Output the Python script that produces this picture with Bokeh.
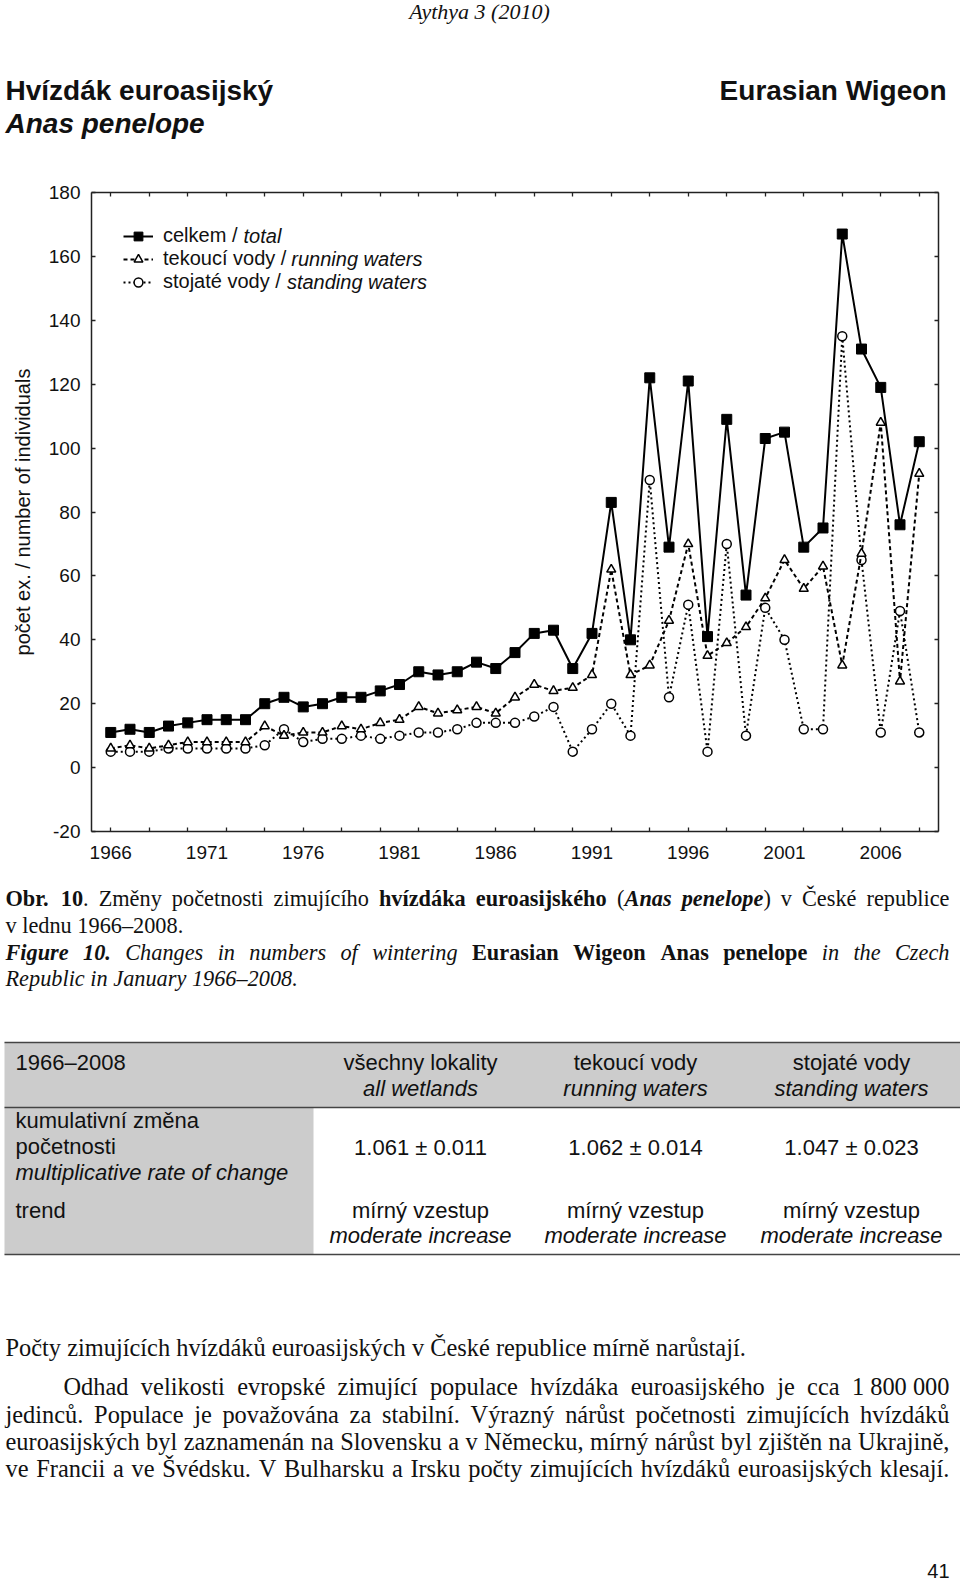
import unicodedata
from bokeh.plotting import figure
from bokeh.models import (Range1d, LinearAxis, FixedTicker, CustomJSTickFormatter,
                          Legend, LegendItem, Label, BoxAnnotation)
from bokeh.layouts import column
from bokeh.embed import file_html
from bokeh.resources import INLINE

# ---------------- data ----------------
years = list(range(1966, 2009))
total = [11, 12, 11, 13, 14, 15, 15, 15, 20, 22, 19, 20, 22, 22, 24, 26, 30, 29, 30, 33, 31, 36,
         42, 43, 31, 42, 83, 40, 122, 69, 121, 41, 109, 54, 103, 105, 69, 75, 167, 131, 119, 76, 102]
running = [6, 7, 6, 7, 8, 8, 8, 8, 13, 10, 11, 11, 13, 12, 14, 15, 19, 17, 18, 19, 17, 22,
           26, 24, 25, 29, 62, 29, 32, 46, 70, 35, 39, 44, 53, 65, 56, 63, 32, 67, 108, 27, 92]
standing = [5, 5, 5, 6, 6, 6, 6, 6, 7, 12, 8, 9, 9, 10, 9, 10, 11, 11, 12, 14, 14, 14,
            16, 19, 5, 12, 20, 10, 90, 22, 51, 5, 70, 10, 50, 40, 12, 12, 135, 65, 11, 49, 11]
x_label_years = [1966, 1971, 1976, 1981, 1986, 1991, 1996, 2001, 2006]
x_minor_years = list(range(1966, 2009, 2))
y_ticks = [-20, 0, 20, 40, 60, 80, 100, 120, 140, 160, 180]
series_names = ["celkem /", "tekoucí vody /", "stojaté vody /"]
series_names_en = ["total", "running waters", "standing waters"]
y_title = "počet ex. / number of individuals"

SERIF = "Liberation Serif"
SANS = "Liberation Sans"
W, H_HEAD, H_CHART, H_TEXT = 960, 168, 712, 710

# ---------------- font metrics (Times / Arial compatible) ----------------
LOW = "abcdefghijklmnopqrstuvwxyz"
UP = "ABCDEFGHIJKLMNOPQRSTUVWXYZ"
_T = {
    "normal": ([444,500,444,500,444,333,500,500,278,278,500,278,778,500,500,500,500,333,389,278,500,500,722,500,500,444],
               [722,667,667,722,611,556,722,722,333,389,722,611,889,722,722,556,722,667,556,611,722,722,944,722,722,611]),
    "bold": ([500,556,444,556,444,333,500,556,278,333,556,278,833,556,500,556,556,444,389,333,556,500,722,500,500,444],
             [722,667,722,722,667,611,778,778,389,500,778,667,944,722,778,611,778,722,556,667,722,722,1000,722,722,667]),
    "italic": ([500,500,444,500,444,278,500,500,278,278,444,278,722,500,500,500,500,389,389,278,500,444,667,444,444,389],
               [611,611,667,722,611,611,722,722,333,444,667,556,833,667,722,611,722,611,500,556,722,611,833,611,556,556]),
    "bold italic": ([500,500,444,500,444,333,500,556,278,278,500,278,778,556,500,500,500,389,389,278,556,444,667,500,444,389],
                    [667,667,667,722,667,667,722,778,389,500,667,611,889,722,722,611,722,667,556,611,722,667,889,667,611,611]),
}
_A_LOW = [556,556,500,556,556,278,556,556,222,222,500,222,833,556,556,556,556,333,500,278,556,500,722,500,500,500]
_A_UP = [667,667,722,722,667,611,778,722,278,500,667,556,833,722,778,667,778,722,667,611,722,667,944,667,667,611]


def char_w(ch, family, style):
    base = unicodedata.normalize("NFD", ch)[0]
    if family == "serif":
        low, up = _T[style]
        if base in LOW:
            return low[LOW.index(base)]
        if base in UP:
            return up[UP.index(base)]
        if base.isdigit() or base == "–":
            return 500
        return {" ": 250, "\u00a0": 250, ".": 250, ",": 250, "(": 333, ")": 333,
                "/": 278, ":": 278, "-": 333}.get(base, 500)
    if base in LOW:
        return _A_LOW[LOW.index(base)]
    if base in UP:
        return _A_UP[UP.index(base)]
    if base.isdigit() or base == "–":
        return 556
    return {" ": 278, ".": 278, "/": 278, ",": 278, "(": 333, ")": 333}.get(base, 556)


def tw(s, family, style, size):
    return sum(char_w(c, family, style) for c in s) / 1000.0 * size


def put(p, x, y, text, font, size, style="normal", align="left", angle=0.0, color="#111111"):
    p.add_layout(Label(x=x, y=y, text=text, text_font=font, text_font_size=f"{size}px",
                       text_font_style=style, text_align=align, text_baseline="middle",
                       angle=angle, text_color=color))


def rich_line(p, segs, x0, y, size, x1=None):
    if x1 is None:
        x = x0
        for text, style in segs:
            put(p, x, y, text, SERIF, size, style)
            x += tw(text, "serif", style, size)
        return
    words, cur = [], []
    for text, style in segs:
        parts = text.split(" ")
        for i, part in enumerate(parts):
            if i > 0 and cur:
                words.append(cur)
                cur = []
            if part:
                cur.append((part, style))
    if cur:
        words.append(cur)
    widths = [sum(tw(t, "serif", s, size) for t, s in w) for w in words]
    gap = (x1 - x0 - sum(widths)) / max(1, len(words) - 1)
    x = x0
    for w, wd in zip(words, widths):
        xx = x
        for t, s in w:
            put(p, xx, y, t, SERIF, size, s)
            xx += tw(t, "serif", s, size)
        x += wd + gap


def text_fig(top, bottom):
    f = figure(width=W, height=bottom - top, x_range=Range1d(0, W), y_range=Range1d(bottom, top),
               output_backend="svg", toolbar_location=None, min_border=0, frame_align=False,
               x_axis_location=None, y_axis_location=None)
    f.grid.visible = False
    f.outline_line_color = None
    return f


# ---------------- header ----------------
head = text_fig(0, H_HEAD)
put(head, 479, 11, "Aythya 3 (2010)", SERIF, 22, "italic", align="center")
put(head, 5, 90, "Hvízdák euroasijský", SANS, 28, "bold")
put(head, 5, 123, "Anas penelope", SANS, 28, "bold italic")
put(head, 946, 90, "Eurasian Wigeon", SANS, 28, "bold", align="right")

# ---------------- chart ----------------
FL, FR, FT, FB = 91, 938, 192, 831
TOP = H_HEAD
p = figure(width=W, height=H_CHART, x_range=Range1d(1965, 2009), y_range=Range1d(-20, 180),
           output_backend="svg", toolbar_location=None, frame_align=False,
           min_border_left=FL, min_border_right=W - FR, min_border_top=FT - TOP,
           min_border_bottom=TOP + H_CHART - FB, x_axis_location=None, y_axis_location=None)
p.grid.visible = False
p.outline_line_color = None


def px2x(px):
    return 1965 + (px - FL) * 44.0 / (FR - FL)


def py2y(py):
    return -20 + (FB - py) * 200.0 / (FB - FT)


AX = dict(axis_line_color="#222222", axis_line_width=1.5, major_tick_line_color="#222222",
          minor_tick_line_color="#222222", major_tick_line_width=1.3, minor_tick_line_width=1.3,
          major_label_text_font=SANS, major_label_text_font_size="19px", major_label_text_color="#111111")
blank = CustomJSTickFormatter(code="return '';")

xb = LinearAxis(ticker=FixedTicker(ticks=x_label_years, minor_ticks=x_minor_years),
                major_tick_in=0, major_tick_out=0, minor_tick_in=4, minor_tick_out=0,
                major_label_standoff=14, **AX)
p.add_layout(xb, "below")
AXB = dict(AX, major_label_text_font_size="1px")
xt = LinearAxis(ticker=FixedTicker(ticks=x_minor_years), formatter=blank,
                major_tick_in=4, major_tick_out=0, minor_tick_in=0, minor_tick_out=0,
                major_label_standoff=0, **AXB)
p.add_layout(xt, "above")
yl = LinearAxis(ticker=FixedTicker(ticks=y_ticks), major_tick_in=4, major_tick_out=0,
                minor_tick_in=0, minor_tick_out=0, major_label_standoff=11,
                major_label_overrides={-20: "-20"},
                axis_label=y_title, axis_label_text_font=SANS, axis_label_text_font_size="20px",
                axis_label_text_font_style="normal", axis_label_text_color="#111111",
                axis_label_standoff=12, **AX)
p.add_layout(yl, "left")
yr = LinearAxis(ticker=FixedTicker(ticks=y_ticks), formatter=blank, major_tick_in=4, major_tick_out=0,
                minor_tick_in=0, minor_tick_out=0, major_label_standoff=0, **AXB)
p.add_layout(yr, "right")

s_line = p.line(years, standing, line_color="black", line_width=2, line_dash="2 3")
s_pts = p.scatter(years, standing, marker="circle", size=9, fill_color="white",
                  line_color="black", line_width=1.5)
r_line = p.line(years, running, line_color="black", line_width=2, line_dash="4 3")
r_pts = p.scatter(years, running, marker="triangle", size=9, fill_color="white",
                  line_color="black", line_width=1.5)
t_line = p.line(years, total, line_color="black", line_width=2)
t_pts = p.scatter(years, total, marker="square", size=10, fill_color="black", line_color="black")

legend = Legend(items=[LegendItem(label=series_names[0], renderers=[t_line, t_pts]),
                       LegendItem(label=series_names[1], renderers=[r_line, r_pts]),
                       LegendItem(label=series_names[2], renderers=[s_line, s_pts])],
                location="top_left", margin=32, padding=0, spacing=0,
                glyph_width=30, glyph_height=22, label_height=22, label_standoff=10,
                label_text_font=SANS, label_text_font_size="20px", label_text_color="#111111",
                border_line_color=None, background_fill_alpha=0)
p.add_layout(legend)

for i, (nm, en) in enumerate(zip(series_names, series_names_en)):
    xpx = FL + 32 + 30 + 10 + tw(nm + " ", "sans", "normal", 20)
    put(p, px2x(xpx), py2y(FT + 43 + 23.4 * i), en, SANS, 20, "italic")

# ---------------- caption, table, text ----------------
b = text_fig(880, 880 + H_TEXT)
CAP = 22.3
rich_line(b, [("Obr. 10", "bold"), (". Změny početnosti zimujícího ", "normal"),
              ("hvízdáka euroasijského", "bold"), (" (", "normal"), ("Anas penelope", "bold italic"),
              (") v České republice", "normal")], 5, 898, CAP, x1=949)
put(b, 5, 924.5, "v lednu 1966–2008.", SERIF, CAP)
rich_line(b, [("Figure 10.", "bold italic"), (" Changes in numbers of wintering ", "italic"),
              ("Eurasian Wigeon Anas penelope", "bold"), (" in the Czech", "italic")], 5, 952, CAP, x1=949)
put(b, 5, 978, "Republic in January 1966–2008.", SERIF, CAP, "italic")

GRAY = "#cccccc"
b.add_layout(BoxAnnotation(left=4, right=W, top=1042, bottom=1107, fill_color=GRAY, fill_alpha=1,
                           line_color=None))
b.add_layout(BoxAnnotation(left=4, right=313, top=1107, bottom=1254, fill_color=GRAY, fill_alpha=1,
                           line_color=None))
for yy in (1042, 1107, 1254):
    b.add_layout(BoxAnnotation(left=4, right=W, top=yy - 0.8, bottom=yy + 0.8, fill_color="#444444",
                               fill_alpha=1, line_color=None))

TS = 22
cols = [420, 635, 851]
put(b, 15, 1062, "1966–2008", SANS, TS)
heads = [("všechny lokality", "all wetlands"), ("tekoucí vody", "running waters"),
         ("stojaté vody", "standing waters")]
rates = ["1.061 ± 0.011", "1.062 ± 0.014", "1.047 ± 0.023"]
for cx, (cz, en), rt in zip(cols, heads, rates):
    put(b, cx, 1062, cz, SANS, TS, align="center")
    put(b, cx, 1088, en, SANS, TS, "italic", align="center")
    put(b, cx, 1147, rt, SANS, TS, align="center")
    put(b, cx, 1210, "mírný vzestup", SANS, TS, align="center")
    put(b, cx, 1235, "moderate increase", SANS, TS, "italic", align="center")
put(b, 15, 1120, "kumulativní změna", SANS, TS)
put(b, 15, 1146, "početnosti", SANS, TS)
put(b, 15, 1172, "multiplicative rate of change", SANS, TS, "italic")
put(b, 15, 1210, "trend", SANS, TS)

BODY = 24.4
put(b, 5, 1347, "Počty zimujících hvízdáků euroasijských v České republice mírně narůstají.", SERIF, BODY)
rich_line(b, [("Odhad velikosti evropské zimující populace hvízdáka euroasijského je cca 1\u00a0800\u00a0000",
               "normal")], 63, 1386, BODY, x1=949)
rich_line(b, [("jedinců. Populace je považována za stabilní. Výrazný nárůst početnosti zimujících hvízdáků",
               "normal")], 5, 1413.5, BODY, x1=949)
rich_line(b, [("euroasijských byl zaznamenán na Slovensku a v Německu, mírný nárůst byl zjištěn na Ukrajině,",
               "normal")], 5, 1441, BODY, x1=949)
rich_line(b, [("ve Francii a ve Švédsku. V Bulharsku a Irsku počty zimujících hvízdáků euroasijských klesají.",
               "normal")], 5, 1468, BODY, x1=949)
put(b, 949, 1570, "41", SANS, 20, align="right")

page = column(head, p, b, spacing=0)
open("out.html", "w").write(file_html(page, INLINE))
